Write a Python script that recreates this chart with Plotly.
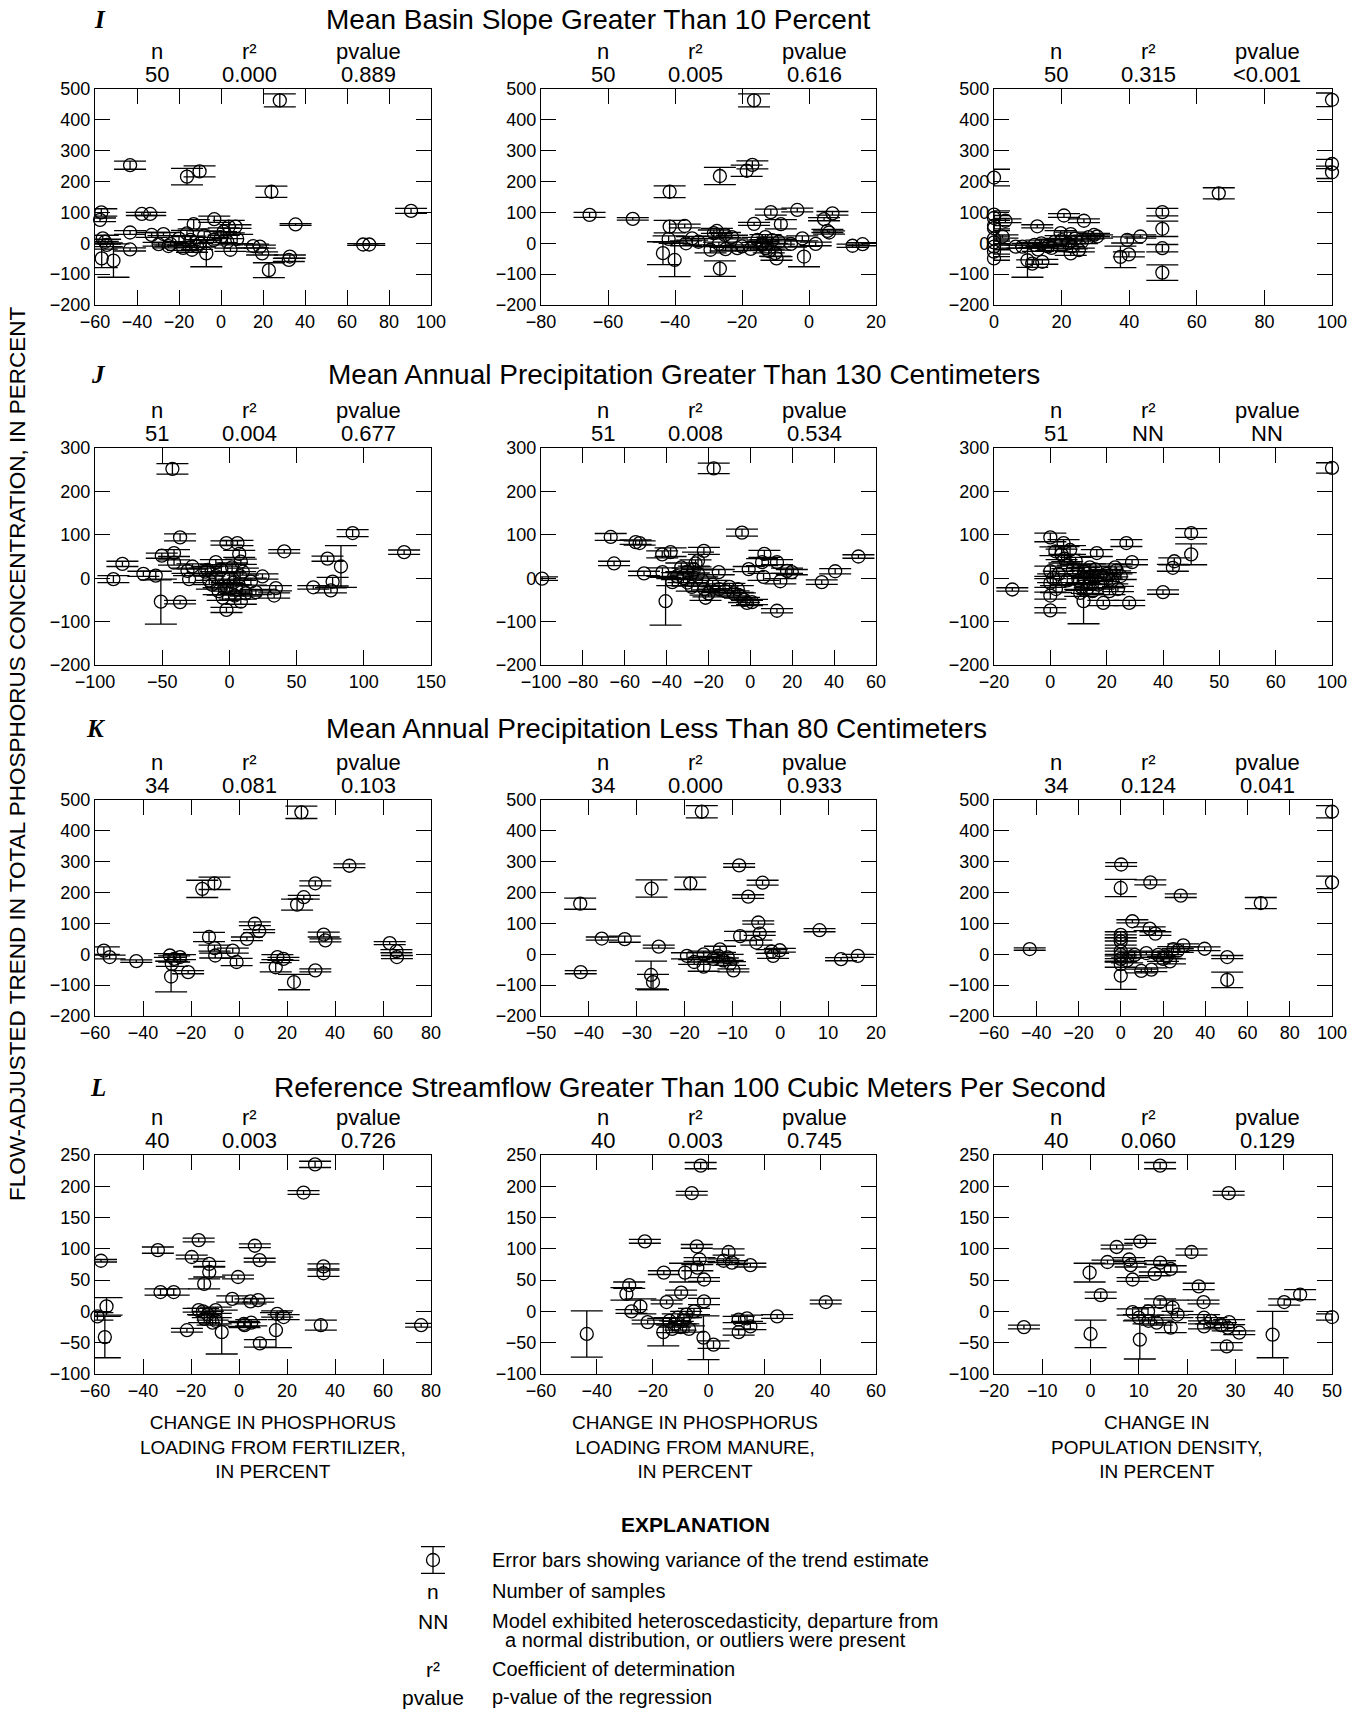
import plotly.graph_objects as go

W, H = 1357, 1711
FONT = "Liberation Sans, Arial, sans-serif"
SERIF = "Liberation Serif, Times New Roman, serif"

# ---------------- DATA ----------------
# Row I : Mean basin slope > 10 percent
I1_x = [28, -43.3, -16.2, -10.2, 24, 90.5, 35.5, -57, -57.6, -37.7, -33.7, -56.3, -55.2, -54.4, -56.8, -51.2, -43.3, -43.3, -33, -29.7,
        -27.4, -25, -13, -16.2, -14.6, -13.8, -11.4, -7, -3.2, -3.5, 1.3, 3.7, 6.9, 7.7, 4.5, 15.3, 18.5, 19.6, 22.8, 32.8,
        32.3, 67.7, 70.6, -20, -8, -10, 0, -18, 3, -24]
I1_y = [463, 253, 216, 233, 167, 105, 61, 100, 76, 95, 95, 16, 5, -5, -49, -56, 35, -20, 27, -3,
        30, -9, 62, 32, 11, -21, -10, -33, 78, 11, 38, 54, 54, 14, -21, -9, -11, -33, -87, -43,
        -54, -4, -4, 15, 25, 0, 20, -15, 5, -3]
I1_e = [21, 13, 27, 18, 18, 8, 3, 12, 6, 5, 5, 10, 8, 6, 30, 54, 6, 5, 8, 6,
        5, 6, 15, 10, 12, 8, 10, 43, 10, 8, 12, 20, 6, 15, 5, 6, 5, 5, 24, 5,
        5, 3, 3, 10, 15, 12, 18, 8, 10, 6]

I2_x = [-16.4, -16.9, -18.6, -26.6, -41.6, -65.5, -52.6, -41.6, -37.1, -41.9, -36.7, -34.9, -43.6, -40.1, -28.4, -26.9, -25.1, -24.9, -29.4, -26.6,
        -21.4, -17.4, -16.4, -15.4, -13.9, -12.9, -11.4, -8.4, -10.1, -9.7, -3.5, -5.4, -2, -1.5, 2, 4.5, 7, 5.5, 6, 13,
        16, -13, -11, -12, -9, -14, -27.5, -23, -33, -20]
I2_y = [463, 254, 235, 218, 167, 92, 79, 54, 56, 14, 0, 16, -32, -54, 33, -2, 27, -19, -21, -82,
        -16, -18, 63, 11, 0, -16, 101, 62, -32, -49, 108, -2, 16, -43, -2, 78, 97, 40, 35, -8,
        -3, 20, 10, -25, 5, -5, 40, 20, 5, -10]
I2_e = [21, 13, 18, 28, 19, 8, 4, 20, 6, 10, 8, 6, 37, 54, 10, 6, 8, 6, 10, 25,
        6, 6, 5, 8, 10, 6, 10, 15, 10, 6, 6, 10, 8, 33, 6, 5, 6, 5, 5, 5,
        5, 8, 10, 6, 8, 10, 8, 6, 10, 5]

I3_x = [100, 100, 100, 66.5, 49.8, 49.8, 49.8, 49.8, 0, 0, 0, 0, 0, 0, 0, 0, 0, 3.4, 2.5, 6.4,
        8.4, 9.9, 12.8, 11.3, 14.3, 20.7, 19.7, 22.7, 26.6, 29.6, 30.5, 22.7, 25.1, 37.4, 39.4, 39.9, 43.3, 12, 14, 16,
        18, 20, 22, 24, 26, 17, 28, 23, 13, 0]
I3_y = [465, 257, 230, 162, 101, 47, -16, -95, 213, 93, 82, 49, 57, 3, -11, -27, -49, 73, 22, -11,
        -11, -55, 55, -66, -60, 90, 33, 30, 73, 27, 22, -33, -22, -44, 11, -36, 22, -5, 0, -10,
        5, 10, 0, 15, 5, -15, 20, -10, -20, 15]
I3_e = [22, 15, 20, 18, 12, 25, 12, 25, 27, 12, 8, 8, 10, 8, 10, 8, 6, 6, 5, 5,
        5, 55, 5, 12, 8, 6, 8, 6, 6, 5, 5, 6, 6, 35, 10, 8, 5, 8, 10, 6,
        8, 6, 10, 8, 6, 8, 6, 8, 6, 8]

# Row J : Mean annual precipitation > 130 cm
J1_x = [-42.4, -36.7, 91.7, 130, 40.8, -2.2, 6, 7.3, 8.5, -79.6, -86.3, -64, -54.8, -51, -36.7, -50.3, -41.2, -41.2, -27.5, -30,
        -31.2, -16.3, -10.1, -13, -8, -5, -2, 3, 5, 0, -10, 10, 8, -2.2, 8.5, 16, 19.7, 24.6, 34.6, 33.3,
        62.4, 73, 76.8, 75.5, 83, -18, -6, 12, 2, -15, 4]
J1_y = [252, 94, 104, 60, 62, 81, 81, 56, 38, 33, -2, 10, 6, -54, -55, 52, 58, 36, 27, -2,
        17, 19, 37, -15, -30, -45, -20, -10, -25, 0, 5, 15, 5, -73, -54, -8, -32, 4, -23, -40,
        -21, 45, -8, -28, 27, 15, 20, -35, 25, -5, -40]
J1_e = [12, 8, 8, 5, 4, 5, 6, 8, 6, 6, 8, 6, 10, 52, 4, 6, 8, 6, 6, 8,
        6, 8, 6, 10, 8, 6, 10, 8, 10, 12, 10, 8, 10, 6, 6, 8, 6, 6, 6, 6,
        4, 6, 10, 6, 48, 8, 8, 6, 10, 10, 8]

J2_x = [-17.5, -4, -66.7, -65.1, -54.8, -52.9, -50.8, -99.5, -42.1, -38.1, -40.5, -42, -37.3, -33, -22.2, -26.2, -15.1, -35, -32, -30,
        -28, -27, -25, -23, -22, -20, -18, -15, -12, -10, -8, -6, -30, -25, -21.4, -1.6, 0.8, 12.7, -0.8, 6.7,
        5.6, 6.3, 12.7, 14.3, 17.5, 19.8, 34.1, 40.5, 51.6, -5, -3]
J2_y = [253, 105, 95, 34, 83, 81, 11, -1, 55, 60, -53, 14, -9, 25, 63, 34, 14, 5, 0, -10,
        -20, 20, 10, -5, -25, -35, -15, -25, -30, -20, -35, -25, 15, 40, -45, -57, -55, -75, 21, 56,
        37, 3, 37, -7, 17, 14, -9, 16, 50, -40, -50]
J2_e = [12, 8, 8, 5, 5, 5, 5, 4, 8, 10, 55, 10, 8, 10, 8, 8, 6, 8, 10, 8,
        10, 8, 10, 8, 6, 8, 10, 8, 6, 8, 6, 8, 8, 20, 6, 6, 6, 5, 6, 8,
        8, 8, 6, 6, 6, 6, 5, 6, 4, 6, 6]

J3_x = [100, 50, 50, 44, 43.5, 40, 27, 29, 23.5, -13.5, 0, 0, 0, 0, 0, 1.8, 4.7, 5, 6, 4,
        7, 3, 8, 6, 9, 10.6, 11.8, 16.5, 18.8, 28, 12, 13, 14, 15, 11, 13, 16, 17, 19, 20,
        21, 22, 24, 25, 14, 12, 10, 15, 23, 2, 1]
J3_y = [254, 104, 55, 39, 24, -32, 81, 37, 18, -26, 94, 16, -11, -40, -74, 62, 81, 45, 30, 55,
        65, 10, 20, -5, 40, -34, -53, 58, -57, -57, 0, 10, -10, 5, -20, -25, 20, -15, 0, 10,
        -30, -5, -25, 5, 25, 15, -5, -30, 25, -25, 0]
J3_e = [12, 10, 24, 8, 8, 5, 8, 6, 8, 4, 10, 12, 10, 8, 6, 10, 8, 10, 8, 12,
        10, 6, 10, 10, 8, 8, 52, 8, 6, 6, 10, 8, 12, 10, 8, 10, 8, 10, 8, 10,
        8, 8, 6, 8, 8, 10, 10, 8, 8, 8, 10]

# Row K : Mean annual precipitation < 80 cm
K1_x = [26, 46, 31.8, 27, 24.2, -10.2, -15.3, 6.6, 8.4, 3.3, -12.5, -10.2, -9.9, -2.6, -1, -56.3, -53.9, -42.8, -28.8, -28,
        -24.6, -28.3, -21.2, 16, 18.5, 15.3, 22.9, 31.8, 35.3, 36, 62.8, 65.6, 65.8, -27]
K1_y = [460, 287, 230, 185, 161, 230, 212, 99, 75, 50, 56, 20, -4, 12, -25, 12, -9, -22, -4, -31,
        -9, -72, -58, -9, -15, -42, -90, -52, 64, 45, 36, 10, -9, -15]
K1_e = [20, 6, 8, 6, 18, 20, 28, 6, 5, 6, 15, 10, 8, 8, 12, 12, 6, 4, 6, 8,
        8, 50, 5, 8, 5, 15, 25, 5, 8, 5, 5, 5, 5, 10]

K2_x = [-16.4, -8.6, -3.7, -6.7, -18.8, -26.9, -41.8, -37.3, -32.5, -25.4, -41.7, -27, -26.6, -4.6, -8.4, -4.3, -5, -12.6, -1.8, -1.5,
        -0.1, -9.8, 8.2, 12.7, 16.2, -19.5, -18, -16, -16, -14, -13, -12, -11, -10.5]
K2_y = [462, 288, 232, 187, 230, 213, 164, 51, 49, 25, -58, -67, -90, 103, 59, 67, 38, 16, 9, -5,
        13, -52, 78, -16, -5, -5, -25, 0, -40, -15, -5, -20, -10, -30]
K2_e = [20, 6, 8, 6, 20, 28, 18, 5, 10, 5, 5, 45, 25, 5, 15, 6, 8, 10, 6, 8,
        6, 5, 5, 5, 5, 10, 8, 10, 15, 8, 10, 8, 10, 6]

K3_x = [100, 100, 66.3, 0.2, 0, 14, 28.4, 5.5, 13.7, 16.4, 0, 0, 0, -43.1, 29.6, 24.9, 39.7, 6.6, 12.1, 17.7,
        21.7, 23.3, 9.7, 14.5, 0, 0, 0, 0, 50.4, 50.4, 0, 3, 27, 20]
K3_y = [462, 233, 166, 291, 215, 233, 190, 107, 83, 67, 63, 53, 42, 17, 29, 17, 18, -2, 4, -2,
        -7, -23, -54, -50, -2, -15, -32, -69, -9, -83, 10, -20, 12, -15]
K3_e = [20, 20, 18, 6, 28, 8, 6, 5, 6, 6, 10, 10, 12, 4, 5, 8, 6, 8, 6, 8,
        6, 8, 6, 6, 12, 10, 10, 45, 5, 25, 10, 8, 6, 8]

# Row L : Reference streamflow > 100 m3/s
L1_x = [31.7, 26.9, -57.5, -33.8, -16.8, -19.7, -12.4, -12.4, 6.6, 8.6, -0.4, -14.5, -32.7, -27.2, -55.2, -59, -55.9, -21.7, -16.8, -14.5,
        -9.7, -9.7, -7.2, -2.8, 4.8, 8, 2.3, 5.1, 8.7, 15.9, 18.6, 15.4, 34.1, 35.2, 35.2, 75.9, -13, -11, -15, 2]
L1_y = [235, 190, 81, 98, 114, 87, 76, 63, 105, 82, 55, 44, 31, 31, 8, -8, -41, -30, 2, -12,
        2, -15, -33, 20, 16, 18, -22, -18, -51, -4, -9, -30, -22, 72, 61, -22, -5, -18, 0, -20]
L1_e = [5, 3, 2, 5, 3, 3, 4, 8, 3, 3, 3, 8, 5, 5, 14, 6, 33, 3, 3, 6,
        5, 5, 35, 5, 4, 3, 4, 5, 6, 5, 4, 28, 8, 4, 5, 3, 5, 4, 5, 4]

L2_x = [-2.8, -6, -22.8, -4.2, 7.2, 5.4, 8.4, 15, -3.2, -4, -16, -8.4, -1.6, -28.4, -29.4, -9.8, -15, -1.6, -24.4, -27.6,
        -5.2, -21.8, -43.6, -16.2, -1.8, 1.8, 24.6, 42, 10.8, 13.8, 15, 10.8, -14, -12, -11, -10, -9, -8, -7, -13]
L2_y = [233, 189, 112, 104, 95, 81, 78, 74, 83, 70, 62, 62, 51, 42, 28, 30, 15, 16, 8, 0,
        0, -17, -36, -33, -42, -53, -8, 15, -13, -11, -24, -33, -15, -20, -10, -25, -15, -5, -28, -28]
L2_e = [5, 3, 3, 3, 5, 3, 3, 3, 3, 5, 3, 15, 3, 5, 10, 4, 3, 5, 12, 3,
        5, 3, 37, 22, 35, 6, 3, 3, 5, 5, 5, 5, 5, 5, 6, 5, 5, 5, 5, 6]

L3_x = [14.4, 28.6, 10.3, 5.4, 20.9, 3.5, 8, 8.3, 14.4, 16.6, 13.3, 8.7, -0.2, 2.1, 22.4, 43.4, 40.1, 14.4, 17, 23.4,
        8.7, 11.9, 13.7, 16.6, 23.5, 23.5, 28.7, 30.8, 28.4, 28.2, -13.8, 0, 10.2, 37.7, 50, 25, 10, 12, 27, 18]
L3_y = [233, 189, 112, 103, 95, 79, 83, 74, 78, 68, 60, 51, 62, 26, 40, 27, 15, 15, 6, 15,
        -1, 0, -18, -26, -10, -24, -17, -34, -26, -56, -25, -36, -45, -37, -9, -15, -10, -15, -22, -5]
L3_e = [5, 3, 3, 3, 5, 3, 3, 3, 3, 5, 3, 3, 15, 5, 5, 8, 5, 5, 12, 3,
        5, 6, 4, 8, 5, 4, 4, 3, 5, 6, 3, 22, 31, 37, 5, 5, 5, 5, 4, 5]

ROW_TITLES = ["Mean Basin Slope Greater Than 10 Percent",
              "Mean Annual Precipitation Greater Than 130 Centimeters",
              "Mean Annual Precipitation Less Than 80 Centimeters",
              "Reference Streamflow Greater Than 100 Cubic Meters Per Second"]
ROW_LETTERS = ["I", "J", "K", "L"]

N_VALUES = ["50", "50", "50", "51", "51", "51", "34", "34", "34", "40", "40", "40"]
R2_VALUES = ["0.000", "0.005", "0.315", "0.004", "0.008", "NN", "0.081", "0.000", "0.124", "0.003", "0.003", "0.060"]
P_VALUES = ["0.889", "0.616", "&lt;0.001", "0.677", "0.534", "NN", "0.103", "0.933", "0.041", "0.726", "0.745", "0.129"]
HEADER_LABELS = ["n", "r\u00b2", "pvalue"]

X_RANGES = [[-60, 100], [-80, 20], [0, 100],
            [-100, 150], [-100, 60], [-20, 100],
            [-60, 80], [-50, 20], [-60, 100],
            [-60, 80], [-60, 60], [-20, 50]]
X_DTICKS = [20, 20, 20, 50, 20, 20, 20, 10, 20, 20, 20, 10]
J3_TICKVALS = [-20, 0, 20, 40, 60, 80, 100]
J3_TICKTEXT = ["\u221220", "0", "20", "40", "50", "60", "100"]
Y_RANGES = [[-200, 500], [-200, 300], [-200, 500], [-100, 250]]
Y_DTICKS = [100, 100, 100, 50]

X_TITLES = ["CHANGE IN PHOSPHORUS<br>LOADING FROM FERTILIZER,<br>IN PERCENT",
            "CHANGE IN PHOSPHORUS<br>LOADING FROM MANURE,<br>IN PERCENT",
            "CHANGE IN<br>POPULATION DENSITY,<br>IN PERCENT"]
Y_TITLE = "FLOW-ADJUSTED TREND IN TOTAL PHOSPHORUS CONCENTRATION, IN PERCENT"

EXPL_LABELS = ["n", "NN", "r\u00b2", "pvalue"]
EXPL_TEXTS = ["Error bars showing variance of the trend estimate",
              "Number of samples",
              "Model exhibited heteroscedasticity, departure from",
              "a normal distribution, or outliers were present",
              "Coefficient of determination",
              "p-value of the regression"]

# ---------------- LAYOUT GEOMETRY (pixels) ----------------
COLS = [(95, 431), (541, 876), (994, 1332)]
ROWS = [(89, 305), (448, 665), (800, 1016), (1155, 1374)]
HDR_OFF = [62, 154, 273]

def px(x):
    return x / W

def py(y):
    return 1 - y / H

panel_data = [(I1_x, I1_y, I1_e), (I2_x, I2_y, I2_e), (I3_x, I3_y, I3_e),
              (J1_x, J1_y, J1_e), (J2_x, J2_y, J2_e), (J3_x, J3_y, J3_e),
              (K1_x, K1_y, K1_e), (K2_x, K2_y, K2_e), (K3_x, K3_y, K3_e),
              (L1_x, L1_y, L1_e), (L2_x, L2_y, L2_e), (L3_x, L3_y, L3_e)]

fig = go.Figure()
axstyle = dict(showline=True, linecolor="black", linewidth=1.4, mirror="ticks",
               ticks="inside", ticklen=15, tickwidth=1.4, tickcolor="black",
               showgrid=False, zeroline=False, fixedrange=True, automargin=False,
               tickfont=dict(family=FONT, size=18, color="black"))

annotations = []

def ann(x, y, text, size, xanchor="center", yanchor="middle", family=FONT, **kw):
    annotations.append(dict(x=px(x), y=py(y), text=text, showarrow=False, xref="paper", yref="paper",
                            xanchor=xanchor, yanchor=yanchor, borderpad=0,
                            font=dict(family=family, size=size, color="black"), **kw))

for i, (xs, ys, es) in enumerate(panel_data):
    r, c = divmod(i, 3)
    suf = "" if i == 0 else str(i + 1)
    fig.add_trace(go.Scatter(
        x=xs, y=ys, mode="markers", xaxis="x" + suf, yaxis="y" + suf,
        marker=dict(symbol="circle-open", size=13, color="black", line=dict(width=1.3, color="black")),
        error_y=dict(type="data", array=es, symmetric=True, color="black", thickness=1.3, width=16),
        cliponaxis=False, showlegend=False, hoverinfo="skip"))
    x0, x1 = COLS[c]
    y0, y1 = ROWS[r]
    xa = dict(axstyle, domain=[px(x0), px(x1)], range=X_RANGES[i], anchor="y" + suf)
    if i == 5:
        xa.update(tickmode="array", tickvals=J3_TICKVALS, ticktext=J3_TICKTEXT)
    else:
        xa.update(tick0=0, dtick=X_DTICKS[i])
    ya = dict(axstyle, domain=[py(y1), py(y0)], range=Y_RANGES[r], anchor="x" + suf,
              tick0=0, dtick=Y_DTICKS[r])
    fig.update_layout(**{"xaxis" + suf: xa, "yaxis" + suf: ya})
    for k, val in enumerate([N_VALUES[i], R2_VALUES[i], P_VALUES[i]]):
        ann(x0 + HDR_OFF[k], y0 - 38, HEADER_LABELS[k], 22)
        ann(x0 + HDR_OFF[k], y0 - 15, val, 22)

# row titles and letters
TITLE_LEFT = [325, 327, 325, 273]
TITLE_Y = [19, 374, 729, 1087]
LETTER_X = [100, 98, 96, 98]
for r in range(4):
    ann(TITLE_LEFT[r], TITLE_Y[r], ROW_TITLES[r], 28, xanchor="left")
    ann(LETTER_X[r], TITLE_Y[r], "<b><i>" + ROW_LETTERS[r] + "</i></b>", 25, family=SERIF)

# y-axis title
ann(18, 754, Y_TITLE, 22.5, textangle=-90)
# x-axis titles
XT_CENTERS = [273, 695, 1157]
for c in range(3):
    ann(XT_CENTERS[c], 1411, X_TITLES[c], 19, yanchor="top", align="center")

# explanation
ann(695, 1524, "<b>EXPLANATION</b>", 21)
LAB_Y = [1591, 1621, 1669, 1697]
for lab, yy in zip(EXPL_LABELS, LAB_Y):
    ann(433, yy, lab, 21)
TXT_Y = [1560, 1591, 1621, 1640, 1669, 1697]
TXT_X = [491, 491, 491, 504, 491, 491]
for t, xx, yy in zip(EXPL_TEXTS, TXT_X, TXT_Y):
    ann(xx, yy, t, 20, xanchor="left")

# explanation symbol
fig.add_trace(go.Scatter(
    x=[0], y=[0], mode="markers", xaxis="x13", yaxis="y13",
    marker=dict(symbol="circle-open", size=13, color="black", line=dict(width=1.3, color="black")),
    error_y=dict(type="data", array=[1], color="black", thickness=1.3, width=12),
    cliponaxis=False, showlegend=False, hoverinfo="skip"))
fig.update_layout(
    xaxis13=dict(domain=[px(413), px(453)], range=[-1, 1], visible=False, anchor="y13",
                 fixedrange=True, automargin=False),
    yaxis13=dict(domain=[py(1580), py(1540)], range=[-1.5, 1.5], visible=False, anchor="x13",
                 fixedrange=True, automargin=False))

fig.update_layout(template="none", width=W, height=H, autosize=False,
                  margin=dict(l=0, r=0, t=0, b=0, pad=0, autoexpand=False),
                  paper_bgcolor="white", plot_bgcolor="white", showlegend=False,
                  annotations=annotations, font=dict(family=FONT, color="black"))

# remove the default page margin so that the figure fills the window exactly; hide the mode bar
fig.write_html("out.html", config={"displayModeBar": False},
               post_script="document.body.style.margin='0';")
